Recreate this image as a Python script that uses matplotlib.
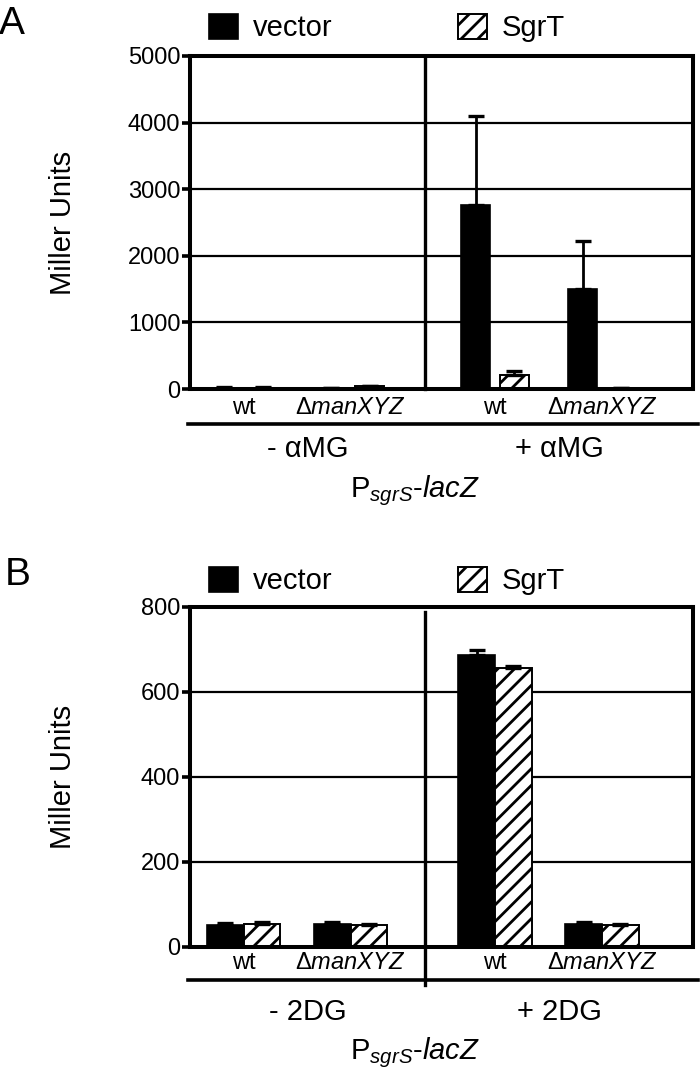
import numpy as np
import matplotlib
matplotlib.use("Agg")
import matplotlib.pyplot as plt
import matplotlib.transforms as mtransforms
from matplotlib.lines import Line2D

plt.rcParams['font.family'] = ['Liberation Sans', 'DejaVu Sans']
plt.rcParams['mathtext.fontset'] = 'custom'
plt.rcParams['mathtext.rm'] = 'Liberation Sans'
plt.rcParams['mathtext.it'] = 'Liberation Sans:italic'
plt.rcParams['hatch.linewidth'] = 2.0

# strains and treatments
strains = ['wt', r'$\mathrm{Δ}\mathit{manXYZ}$', 'wt', r'$\mathrm{Δ}\mathit{manXYZ}$']
cond_a = ['- αMG', '+ αMG']
cond_b = ['- 2DG', '+ 2DG']
reporter = r'P$_{\mathit{sgrS}}$-$\mathit{lacZ}$'

# panel A: alpha-methylglucoside
a_vector = [20, 15, 2760, 1500]
a_vector_err = [10, 5, 1340, 715]
a_sgrt = [20, 40, 215, 15]
a_sgrt_err = [5, 10, 50, 5]
a_ticks = [0, 1000, 2000, 3000, 4000, 5000]

# panel B: 2-deoxyglucose
b_vector = [50, 54, 686, 54]
b_vector_err = [6, 4, 12, 4]
b_sgrt = [53, 50, 655, 50]
b_sgrt_err = [4, 4, 6, 3]
b_ticks = [0, 200, 400, 600, 800]

centers = np.array([0.5, 1.5, 2.85, 3.85])
divider = 2.2
xmax = 4.7

fig = plt.figure(figsize=(7, 10.71), dpi=100)

def px_y(p):
    return 1 - p / 1071.0


def draw_panel(rect, vec, vec_err, sgr, sgr_err, ticks, width, offset,
               conds, y_lab, y_under, y_cond, y_rep, y_leg, letter, letter_xy,
               div_lo, div_hi):
    ax = fig.add_axes(rect)
    ymax = ticks[-1]
    for t in ticks[1:]:
        ax.axhline(t, color='black', lw=1.6, zorder=0)
    ebk = dict(ecolor='black', elinewidth=2.0, capsize=5.5, capthick=2.4)
    zero = np.zeros(len(vec))
    ax.bar(centers - offset, vec, width, color='black', edgecolor='black',
           lw=1.2, label='vector', zorder=2,
           yerr=[zero, vec_err], error_kw=ebk)
    ax.bar(centers + offset, sgr, width, color='white', edgecolor='black',
           lw=1.4, hatch='//', label='SgrT', zorder=2,
           yerr=[zero, sgr_err], error_kw=ebk)
    ax.set_xlim(0, xmax)
    ax.set_ylim(0, ymax)
    ax.set_yticks(ticks)
    ax.set_xticks([])
    for s in ax.spines.values():
        s.set_linewidth(2.9)
    ax.tick_params(axis='y', direction='out', length=6, width=2.6,
                   labelsize=17, pad=1)
    ax.set_ylabel('Miller Units', fontsize=21)
    ax.yaxis.set_label_coords(-0.225, 0.5)

    # treatment divider
    trans_da = mtransforms.blended_transform_factory(ax.transData, ax.transAxes)
    ax.add_line(Line2D([divider, divider], [div_lo, div_hi], transform=trans_da,
                       color='black', lw=2.4, clip_on=False))

    trans_df = mtransforms.blended_transform_factory(ax.transData, fig.transFigure)
    for c, s in zip(centers, strains):
        ax.text(c, px_y(y_lab), s, transform=trans_df, ha='center',
                va='center', fontsize=17)
    fig.add_artist(Line2D([188 / 700, 698 / 700], [px_y(y_under)] * 2,
                          color='black', lw=2.6))
    ax.text(divider / 2, px_y(y_cond), conds[0], transform=trans_df,
            ha='center', va='center', fontsize=21)
    ax.text((divider + xmax) / 2, px_y(y_cond), conds[1], transform=trans_df,
            ha='center', va='center', fontsize=21)
    fig.text(415 / 700, px_y(y_rep), reporter, ha='center', va='center',
             fontsize=21)

    ax.legend(loc='center left', bbox_to_anchor=(209 / 700, px_y(y_leg)),
              bbox_transform=fig.transFigure, ncol=2, frameon=False,
              fontsize=21, handlelength=1.0, handleheight=0.95,
              handletextpad=0.5, columnspacing=4.3, borderpad=0,
              borderaxespad=0)
    fig.text(letter_xy[0] / 700, px_y(letter_xy[1]), letter, ha='center',
             va='center', fontsize=28)
    return ax


draw_panel([190 / 700, px_y(389), 503 / 700, 333 / 1071],
           a_vector, a_vector_err, a_sgrt, a_sgrt_err, a_ticks,
           0.27, 0.18, cond_a, 408, 424, 449, 491, 28, 'A', (12, 24),
           0.0, 1.0)

draw_panel([190 / 700, px_y(946.7), 503 / 700, 340 / 1071],
           b_vector, b_vector_err, b_sgrt, b_sgrt_err, b_ticks,
           0.345, 0.1725, cond_b, 963, 980, 1012, 1053, 581, 'B', (18, 575),
           -0.113, 0.985)

fig.savefig('out.png', dpi=100)
